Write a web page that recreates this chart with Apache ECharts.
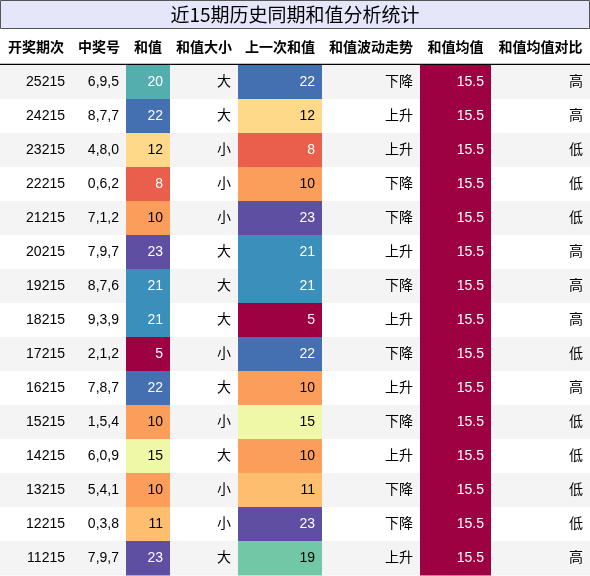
<!DOCTYPE html>
<html><head><meta charset="utf-8">
<script src="https://cdn.jsdelivr.net/npm/echarts@6/dist/echarts.min.js"></script>
<style>html,body{margin:0;padding:0;background:#fff}#c{width:590px;height:576px}</style>
</head><body><div id="c"></div>
<script>
const title = '近15期历史同期和值分析统计';
const headers = ['开奖期次','中奖号','和值','和值大小','上一次和值','和值波动走势','和值均值','和值均值对比'];
const periods = ['25215','24215','23215','22215','21215','20215','19215','18215','17215','16215','15215','14215','13215','12215','11215'];
const numbers = ['6,9,5','8,7,7','4,8,0','0,6,2','7,1,2','7,9,7','8,7,6','9,3,9','2,1,2','7,8,7','1,5,4','6,0,9','5,4,1','0,3,8','7,9,7'];
const sums = [20,22,12,8,10,23,21,21,5,22,10,15,10,11,23];
const sizes = ['大','大','小','小','小','大','大','大','小','大','小','大','小','小','大'];
const prevSums = [22,12,8,10,23,21,21,5,22,10,15,10,11,23,19];
const trends = ['下降','上升','上升','下降','下降','上升','下降','上升','下降','上升','下降','上升','下降','下降','上升'];
const means = [15.5,15.5,15.5,15.5,15.5,15.5,15.5,15.5,15.5,15.5,15.5,15.5,15.5,15.5,15.5];
const compares = ['高','高','低','低','低','高','高','高','低','高','低','低','低','低','高'];

const colorMap = {5:'#9e0142',8:'#e95f4b',10:'#fb9e5c',11:'#fdbe70',12:'#fed98a',15:'#eff8a6',19:'#72c7a6',20:'#54aeae',21:'#3a8fbb',22:'#4470b1',23:'#5e4fa2','15.5':'#9e0142'};
const darkText = {10:1,11:1,12:1,15:1,19:1};
const edges = [0,72,126,170,238,322,420,491,590];
const headerTop = 30, rowTop = 65, rowH = 34;

const cells = [];
headers.forEach((h,c)=>cells.push([c,-1,h]));
for (let r=0;r<periods.length;r++){
  const row=[periods[r],numbers[r],sums[r],sizes[r],prevSums[r],trends[r],means[r],compares[r]];
  row.forEach((v,c)=>cells.push([c,r,v]));
}
const chart = echarts.init(document.getElementById('c'));
chart.setOption({
  animation:false,
  grid:{left:0,right:0,top:0,bottom:0},
  xAxis:{type:'value',min:0,max:590,show:false},
  yAxis:{type:'value',min:0,max:576,inverse:true,show:false},
  graphic:[
    {type:'rect',shape:{x:0.5,y:0.5,width:589,height:28},style:{fill:'#e6e6fa',stroke:'#555',lineWidth:1}},
    {type:'text',x:295,y:15,style:{text:title,font:'19px "Noto Sans CJK SC", sans-serif',fill:'#000',align:'center',verticalAlign:'middle'}},
    {type:'line',shape:{x1:0,y1:64.5,x2:590,y2:64.5},style:{stroke:'#000',lineWidth:1.5}}
  ],
  series:[{
    type:'custom',
    data:cells,
    renderItem:function(params,api){
      const c=api.value(0), r=api.value(1);
      const d=cells[params.dataIndex]; const v=d[2];
      const x0=api.coord([edges[c],0])[0], x1=api.coord([edges[c+1],0])[0];
      const top = r<0?headerTop:rowTop+r*rowH, h = r<0?34:rowH;
      const y0=api.coord([0,top])[1], y1=api.coord([0,top+h])[1];
      const children=[];
      if(r<0){
        children.push({type:'text',style:{x:(x0+x1)/2,y:(y0+y1)/2,text:v,align:'center',verticalAlign:'middle',font:'bold 14px "Noto Sans CJK SC", sans-serif',fill:'#000'}});
      } else {
        let bg = r%2===0?'#f4f4f4':'#ffffff';
        let fg = '#000';
        if(c===2||c===4||c===6){
          bg = colorMap[String(v)];
          fg = darkText[v]?'#000':'#fff';
        }
        children.push({type:'rect',shape:{x:x0,y:y0,width:x1-x0+0.5,height:y1-y0+0.5},style:{fill:bg}});
        children.push({type:'text',style:{x:x1-7,y:(y0+y1)/2,text:String(v),align:'right',verticalAlign:'middle',font:'14px "Liberation Sans","Noto Sans CJK SC", sans-serif',fill:fg}});
      }
      return {type:'group',children};
    }
  }]
});
</script></body></html>
